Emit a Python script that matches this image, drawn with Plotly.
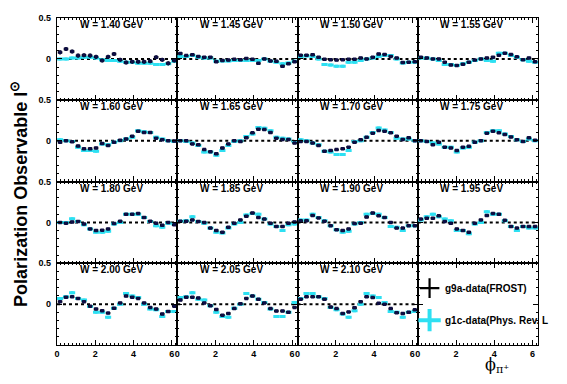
import plotly.graph_objects as go
from plotly.subplots import make_subplots

# phi_pi+ bin centres (rad), 20 bins over [0, 2pi]
phi = [0.16, 0.47, 0.79, 1.10, 1.41, 1.73, 2.04, 2.36, 2.67, 2.98,
       3.30, 3.61, 3.93, 4.24, 4.55, 4.87, 5.18, 5.50, 5.81, 6.13]

w_labels = ["1.40", "1.45", "1.50", "1.55", "1.60", "1.65", "1.70", "1.75",
            "1.80", "1.85", "1.90", "1.95", "2.00", "2.05", "2.10"]

# g9a (FROST) data
g9a_140 = [0.08, 0.12, 0.09, 0.04, 0.045, 0.04, 0.025, -0.02, 0.025, 0.06,
           -0.01, -0.045, -0.035, -0.035, -0.035, -0.03, 0.02, -0.01, -0.055, -0.02]
g9a_145 = [0.065, 0.04, 0.05, 0.03, 0.02, 0.02, -0.035, -0.02, -0.015, -0.005,
           -0.01, 0.005, -0.005, -0.055, 0.0, -0.025, -0.03, -0.09, -0.06, -0.035]
g9a_150 = [0.045, 0.045, 0.05, 0.02, -0.005, -0.01, -0.015, -0.01, -0.005, -0.005,
           0.01, 0.0, 0.02, 0.06, 0.055, 0.03, 0.01, -0.045, -0.04, -0.035]
g9a_155 = [0.02, 0.01, 0.0, 0.0, -0.04, -0.075, -0.08, -0.065, -0.04, -0.015,
           0.0, 0.01, 0.02, 0.045, 0.07, 0.055, 0.025, -0.01, 0.01, -0.035]
g9a_160 = [-0.02, 0.0, -0.015, -0.065, -0.1, -0.1, -0.09, -0.035, -0.06, -0.02,
           0.005, 0.02, 0.055, 0.115, 0.1, 0.1, 0.03, 0.01, 0.0, -0.005]
g9a_165 = [0.0, 0.0, -0.04, -0.05, -0.11, -0.135, -0.16, -0.09, -0.04, 0.0,
           -0.01, 0.035, 0.095, 0.14, 0.135, 0.1, 0.03, 0.015, 0.015, -0.03]
g9a_170 = [-0.01, -0.01, -0.03, -0.06, -0.13, -0.12, -0.11, -0.1, -0.08, -0.02,
           0.01, 0.04, 0.09, 0.125, 0.115, 0.095, 0.055, 0.015, 0.035, 0.0]
g9a_175 = [0.0, -0.01, -0.05, -0.02, -0.08, -0.09, -0.12, -0.08, -0.07, -0.02,
           0.0, 0.09, 0.115, 0.095, 0.075, 0.045, 0.01, -0.01, 0.035, 0.005]
g9a_180 = [0.0, -0.01, 0.005, 0.012, -0.02, -0.08, -0.1, -0.095, -0.08, -0.015,
           0.015, 0.1, 0.1, 0.11, 0.06, 0.015, -0.012, -0.035, 0.0, -0.03]
g9a_185 = [0.015, 0.015, 0.03, 0.01, 0.0, -0.07, -0.1, -0.12, -0.06, -0.01,
           0.03, 0.075, 0.115, 0.06, 0.04, -0.01, -0.05, -0.05, -0.01, 0.005]
g9a_190 = [0.02, 0.02, 0.085, 0.055, 0.015, -0.04, -0.09, -0.1, -0.08, -0.015,
           -0.01, 0.065, 0.115, 0.08, 0.06, 0.0, -0.07, -0.07, -0.04, -0.04]
g9a_195 = [0.04, 0.05, 0.05, 0.08, 0.012, -0.01, -0.08, -0.1, -0.12, -0.012,
           0.03, 0.085, 0.11, 0.1, 0.025, -0.05, -0.07, -0.05, -0.05, -0.05]
g9a_200 = [0.03, 0.085, 0.09, 0.07, 0.03, -0.025, -0.06, -0.08, -0.11, -0.05,
           0.015, 0.1, 0.085, 0.07, 0.015, -0.04, -0.06, -0.12, -0.09, -0.025]
g9a_205 = [0.05, 0.085, 0.085, 0.075, 0.015, -0.02, -0.065, -0.135, -0.115, -0.055,
           0.005, 0.07, 0.1, 0.06, 0.015, -0.055, -0.085, -0.085, -0.1, -0.04]
g9a_210 = [0.06, 0.09, 0.09, 0.09, 0.06, -0.035, -0.055, -0.115, -0.095, -0.045,
           0.03, 0.09, 0.08, 0.01, 0.0, -0.055, -0.105, -0.115, -0.1, -0.07]

# g1c (Phys. Rev. Lett.) data
g1c_140 = [0.0, 0.0, 0.01, 0.01, 0.02, 0.02, 0.01, -0.01, -0.02, -0.02,
           -0.03, -0.04, -0.04, -0.055, -0.055, -0.055, -0.07, -0.07, -0.06, -0.03]
g1c_145 = [0.03, 0.03, 0.04, 0.02, 0.01, 0.01, -0.03, -0.025, -0.025, -0.02,
           -0.02, -0.02, -0.02, -0.02, 0.0, -0.03, -0.04, -0.06, -0.05, -0.03]
g1c_150 = [0.03, 0.035, 0.03, 0.0, -0.07, -0.075, -0.09, -0.09, -0.04, -0.04,
           -0.02, 0.0, 0.01, 0.03, 0.04, 0.04, 0.0, -0.05, -0.04, -0.04]
g1c_155 = [0.01, 0.01, 0.0, -0.02, -0.07, -0.07, -0.08, -0.06, -0.04, -0.02,
           0.0, -0.02, -0.03, 0.07, 0.07, 0.04, 0.02, -0.01, -0.03, -0.04]
g1c_160 = [0.01, 0.0, -0.01, -0.08, -0.12, -0.12, -0.13, -0.04, -0.05, -0.02,
           0.0, 0.02, 0.04, 0.12, 0.11, 0.1, 0.04, 0.02, 0.0, -0.01]
g1c_165 = [0.0, -0.01, -0.03, -0.06, -0.14, -0.14, -0.18, -0.12, -0.06, -0.01,
           0.0, 0.05, 0.08, 0.16, 0.15, 0.12, 0.04, 0.03, 0.02, -0.01]
g1c_170 = [0.01, 0.0, -0.03, -0.05, -0.13, -0.14, -0.17, -0.17, -0.12, -0.01,
           0.0, 0.04, 0.1, 0.155, 0.13, 0.1, 0.03, 0.02, 0.02, 0.0]
g1c_175 = [0.0, -0.01, -0.03, -0.04, -0.08, -0.08, -0.14, -0.09, -0.08, -0.02,
           0.0, 0.1, 0.12, 0.12, 0.08, 0.05, 0.01, -0.01, 0.02, 0.0]
g1c_180 = [0.0, 0.0, 0.045, 0.01, -0.03, -0.08, -0.12, -0.12, -0.11, -0.02,
           0.0, 0.1, 0.1, 0.1, 0.06, 0.01, -0.04, -0.06, -0.01, -0.02]
g1c_185 = [0.015, 0.02, 0.07, 0.01, -0.01, -0.07, -0.12, -0.13, -0.07, -0.02,
           0.0, 0.09, 0.11, 0.1, 0.04, -0.02, -0.05, -0.1, -0.03, -0.02]
g1c_190 = [0.03, 0.03, 0.1, 0.06, 0.02, -0.04, -0.09, -0.12, -0.11, -0.02,
           0.0, 0.1, 0.11, 0.1, 0.06, -0.05, -0.06, -0.1, -0.04, -0.04]
g1c_195 = [0.03, 0.07, 0.1, 0.07, 0.04, 0.02, -0.1, -0.1, -0.14, -0.02,
           0.0, 0.13, 0.1, 0.1, 0.02, -0.05, -0.1, -0.05, -0.07, -0.07]
g1c_200 = [0.07, 0.09, 0.14, 0.07, 0.05, -0.03, -0.1, -0.1, -0.16, -0.05,
           0.0, 0.13, 0.1, 0.08, 0.0, -0.06, -0.07, -0.15, -0.09, -0.09]
g1c_205 = [0.08, 0.09, 0.14, 0.06, 0.05, -0.02, -0.1, -0.15, -0.16, -0.05,
           0.0, 0.13, 0.1, 0.06, 0.02, -0.06, -0.15, -0.15, -0.1, 0.02]
g1c_210 = [0.07, 0.13, 0.13, 0.09, 0.07, -0.04, -0.07, -0.12, -0.16, -0.08,
           0.0, 0.13, 0.1, 0.08, 0.02, -0.09, -0.1, -0.16, -0.1, -0.09]

g9a_err = [0.025, 0.015, 0.01, 0.01, 0.01, 0.01, 0.01, 0.01,
           0.01, 0.01, 0.01, 0.01, 0.01, 0.01, 0.01]
g1c_err = [0.01] * 15

g9a_sets = [g9a_140, g9a_145, g9a_150, g9a_155, g9a_160, g9a_165, g9a_170, g9a_175,
            g9a_180, g9a_185, g9a_190, g9a_195, g9a_200, g9a_205, g9a_210]
g1c_sets = [g1c_140, g1c_145, g1c_150, g1c_155, g1c_160, g1c_165, g1c_170, g1c_175,
            g1c_180, g1c_185, g1c_190, g1c_195, g1c_200, g1c_205, g1c_210]

legend_labels = ["g9a-data(FROST)", "g1c-data(Phys. Rev. L"]

x_ticks = [0, 2, 4, 6]
y_ticks = [0, 0.5]
y_ticktext = ["0", "0.5"]

DARK = "#0d0d45"
CYAN = "#2ee0f2"
FONT = "Liberation Sans, Arial, sans-serif"
TWO_PI = 6.2832

fig = make_subplots(rows=4, cols=4, horizontal_spacing=0, vertical_spacing=0)

for k, w in enumerate(w_labels):
    r, c = k // 4 + 1, k % 4 + 1
    fig.add_trace(go.Scatter(
        x=phi, y=g1c_sets[k], mode="markers",
        marker=dict(symbol="square", size=3, color=CYAN),
        error_x=dict(type="constant", value=0.16, thickness=3, width=0, color=CYAN),
        error_y=dict(type="constant", value=g1c_err[k], thickness=3, width=0, color=CYAN),
        showlegend=False, hoverinfo="skip"), row=r, col=c)
    fig.add_trace(go.Scatter(
        x=phi, y=g9a_sets[k], mode="markers",
        marker=dict(symbol="square", size=3.5, color=DARK),
        error_x=dict(type="constant", value=0.12, thickness=2.4, width=0, color="#000010"),
        error_y=dict(type="constant", value=g9a_err[k], thickness=1.6, width=0, color="#000010"),
        showlegend=False, hoverinfo="skip"), row=r, col=c)

# legend symbols in the 16th panel (labels are placed as text next to them)
fig.add_trace(go.Scatter(
    x=[None], y=[None], mode="markers", name="",
    marker=dict(symbol="cross-thin", size=14, line=dict(width=2.2, color="black")),
    legend="legend"), row=4, col=4)
fig.add_trace(go.Scatter(
    x=[None], y=[None], mode="markers", name="",
    marker=dict(symbol="cross-thin", size=16, line=dict(width=4, color=CYAN)),
    legend="legend2"), row=4, col=4)

shapes = []
annotations = []
for n in range(1, 17):
    k = n - 1
    r, c = k // 4 + 1, k % 4 + 1
    sfx = "" if n == 1 else str(n)
    fig.update_xaxes(
        range=[0, TWO_PI], showline=True, mirror="ticks", linecolor="black", linewidth=1.2,
        ticks="inside", ticklen=5, tickwidth=1, tickcolor="black", automargin=False,
        tickmode="array", tickvals=x_ticks, showticklabels=(r == 4),
        tickfont=dict(family=FONT, size=9, color="black", weight="bold"),
        minor=dict(tickmode="array", tickvals=[i * 0.2 for i in range(32)],
                   ticks="inside", ticklen=2, tickcolor="black"),
        showgrid=False, zeroline=False, row=r, col=c)
    fig.update_yaxes(
        range=[-0.5, 0.5], showline=True, mirror="ticks", linecolor="black", linewidth=1.2,
        ticks="inside", ticklen=5, tickwidth=1, tickcolor="black", automargin=False,
        tickmode="array", tickvals=y_ticks, ticktext=y_ticktext, showticklabels=(c == 1),
        ticklabelstandoff=3,
        tickfont=dict(family=FONT, size=9, color="black", weight="bold"),
        minor=dict(tickmode="array", tickvals=[-0.4, -0.3, -0.2, -0.1, 0.1, 0.2, 0.3, 0.4],
                   ticks="inside", ticklen=2, tickcolor="black"),
        showgrid=False, zeroline=False, row=r, col=c)
    if n <= 15:
        shapes.append(dict(type="line", xref=f"x{sfx} domain", yref=f"y{sfx}",
                           x0=0, x1=1, y0=0, y1=0,
                           line=dict(color="black", width=2, dash="dot"), layer="below"))
        annotations.append(dict(xref=f"x{sfx} domain", yref=f"y{sfx} domain", x=0.45, y=1.01,
                                xanchor="center", yanchor="top", showarrow=False,
                                text=f"<b>W = {w_labels[k]} GeV</b>",
                                font=dict(family=FONT, size=10, color="black")))

# legend labels
for label, ly in zip(legend_labels, [0.174, 0.076]):
    annotations.append(dict(xref="paper", yref="paper", x=0.802, y=ly,
                            xanchor="left", yanchor="middle", showarrow=False,
                            text=f"<b>{label}</b>",
                            font=dict(family=FONT, size=10, color="black")))

annotations.append(dict(xref="paper", yref="paper", x=-0.077, y=0.462, textangle=-90,
                        xanchor="center", yanchor="middle", showarrow=False,
                        text="<b>Polarization Observable I<sup>⊙</sup></b>",
                        font=dict(family=FONT, size=18, color="black")))
annotations.append(dict(xref="paper", yref="paper", x=0.915, y=-0.062,
                        xanchor="center", yanchor="middle", showarrow=False,
                        text="ϕ<sub>π⁺</sub>",
                        font=dict(family="DejaVu Serif, Liberation Serif, serif", size=16, color="black")))

legend_style = dict(xanchor="left", yanchor="middle", bgcolor="rgba(0,0,0,0)",
                    font=dict(family=FONT, size=10, color="black"), itemsizing="trace",
                    itemwidth=30)
# page body keeps an 8 px margin, so the figure is 16 px smaller than the window
fig.update_layout(
    width=551, height=368,
    margin=dict(l=49, r=21, t=10, b=31, autoexpand=False),
    paper_bgcolor="white", plot_bgcolor="white",
    shapes=shapes, annotations=annotations,
    legend=dict(x=0.733, y=0.174, **legend_style),
    legend2=dict(x=0.733, y=0.076, **legend_style),
)

fig.write_html("out.html")
